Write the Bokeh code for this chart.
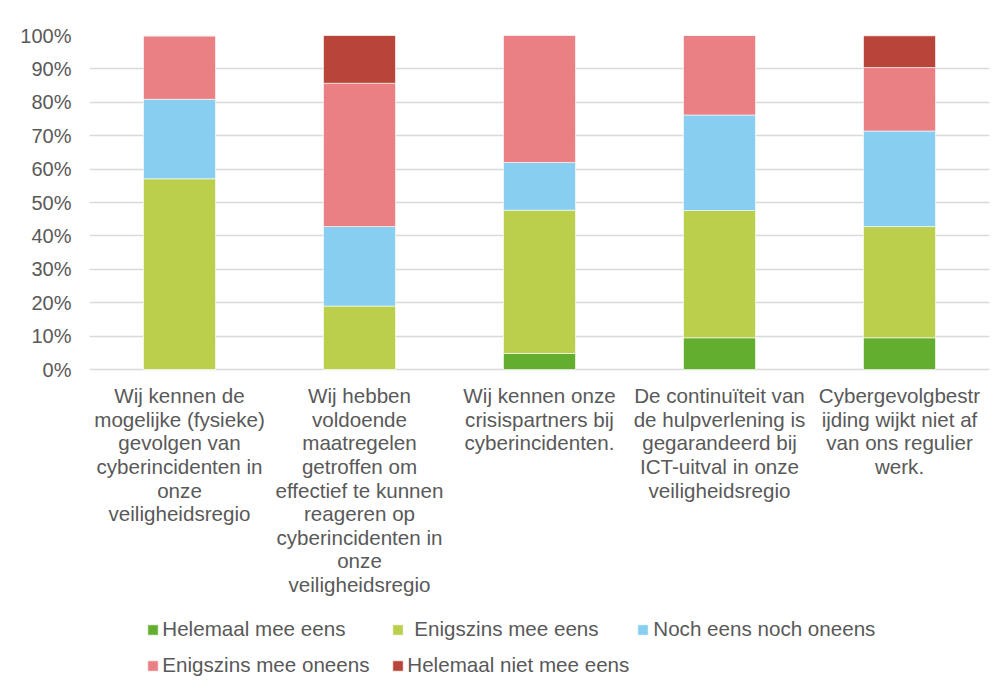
from bokeh.plotting import figure
from bokeh.models import ColumnDataSource, FixedTicker, Legend, LegendItem, Range1d
from bokeh.core.properties import value
from bokeh.embed import file_html
from bokeh.resources import INLINE

categories = [
    "Wij kennen de\nmogelijke (fysieke)\ngevolgen van\ncyberincidenten in\nonze\nveiligheidsregio",
    "Wij hebben\nvoldoende\nmaatregelen\ngetroffen om\neffectief te kunnen\nreageren op\ncyberincidenten in\nonze\nveiligheidsregio",
    "Wij kennen onze\ncrisispartners bij\ncyberincidenten.",
    "De continuïteit van\nde hulpverlening is\ngegarandeerd bij\nICT-uitval in onze\nveiligheidsregio",
    "Cybergevolgbestr\nijding wijkt niet af\nvan ons regulier\nwerk.",
]
series_names = ["Helemaal mee eens", "Enigszins mee eens", "Noch eens noch oneens",
                "Enigszins mee oneens", "Helemaal niet mee eens"]
helemaal_mee_eens = [0.0, 0.0, 4.8, 9.5, 9.5]
enigszins_mee_eens = [57.1, 19.0, 42.9, 38.1, 33.3]
noch_eens_noch_oneens = [23.8, 23.8, 14.3, 28.6, 28.6]
enigszins_mee_oneens = [19.0, 42.9, 38.1, 23.8, 19.0]
helemaal_niet_mee_eens = [0.0, 14.3, 0.0, 0.0, 9.5]
colors = ["#63AE2E", "#BCCF4D", "#87CEF0", "#EA8084", "#B8443A"]
y_ticks = [0, 10, 20, 30, 40, 50, 60, 70, 80, 90, 100]

keys = ["s1", "s2", "s3", "s4", "s5"]
source = ColumnDataSource(dict(
    x=categories,
    s1=helemaal_mee_eens,
    s2=enigszins_mee_eens,
    s3=noch_eens_noch_oneens,
    s4=enigszins_mee_oneens,
    s5=helemaal_niet_mee_eens,
))

FONT = "Liberation Sans"
TXT = "#595959"

# frame reaches the bottom of the figure so the category labels and legend can sit inside it
p = figure(x_range=categories, y_range=Range1d(-93.7, 100), width=1000, height=682,
           output_backend="svg", toolbar_location=None,
           min_border_left=89, min_border_right=11, min_border_top=35, min_border_bottom=0)
p.outline_line_color = None
p.background_fill_color = "white"

renderers = p.vbar_stack(keys, x="x", width=0.4, source=source, color=colors,
                         line_color="white", line_width=1, line_alpha=0.6)

p.xgrid.grid_line_color = None
p.ygrid.grid_line_color = "#D9D9D9"
p.ygrid.grid_line_width = 1.5
p.yaxis.ticker = FixedTicker(ticks=y_ticks)
p.yaxis.major_label_overrides = {t: f"{t}%" for t in y_ticks}
p.yaxis.axis_line_color = None
p.yaxis.major_tick_line_color = None
p.yaxis.minor_tick_line_color = None
p.yaxis.major_tick_out = 0
p.yaxis.major_label_standoff = 18
p.yaxis.major_label_text_font = FONT
p.yaxis.major_label_text_font_size = "20px"
p.yaxis.major_label_text_color = TXT
p.xaxis.visible = False

# category labels below the bars, one text per line for exact line spacing
first_line_y = -7.8
line_step = 7.07
lx_, ly_, lt_ = [], [], []
for cat in categories:
    for j, line in enumerate(cat.split("\n")):
        lx_.append(cat)
        ly_.append(first_line_y - j * line_step)
        lt_.append(line)
p.text(x=lx_, y=ly_, text=lt_,
       text_align="center", text_baseline="middle",
       text_font=value(FONT), text_font_size="20.6px", text_color=TXT)

# legend entries placed individually, matching the reference arrangement
leg_pos = [(57.3, 41, 3), (302.3, 41, 10), (547.3, 41, 4), (57.3, 5, 3), (302.3, 5, 3)]
for name, r, (lx, ly, standoff) in zip(series_names, renderers, leg_pos):
    leg = Legend(items=[LegendItem(label=name, renderers=[r])], location=(lx, ly),
                 padding=0, margin=0, spacing=0, border_line_color=None,
                 background_fill_alpha=0, glyph_width=13, glyph_height=13,
                 label_standoff=standoff, label_height=24,
                 label_text_font=FONT, label_text_font_size="20.6px",
                 label_text_color=TXT, orientation="horizontal")
    p.add_layout(leg, "center")

open("out.html", "w").write(file_html(p, INLINE))
